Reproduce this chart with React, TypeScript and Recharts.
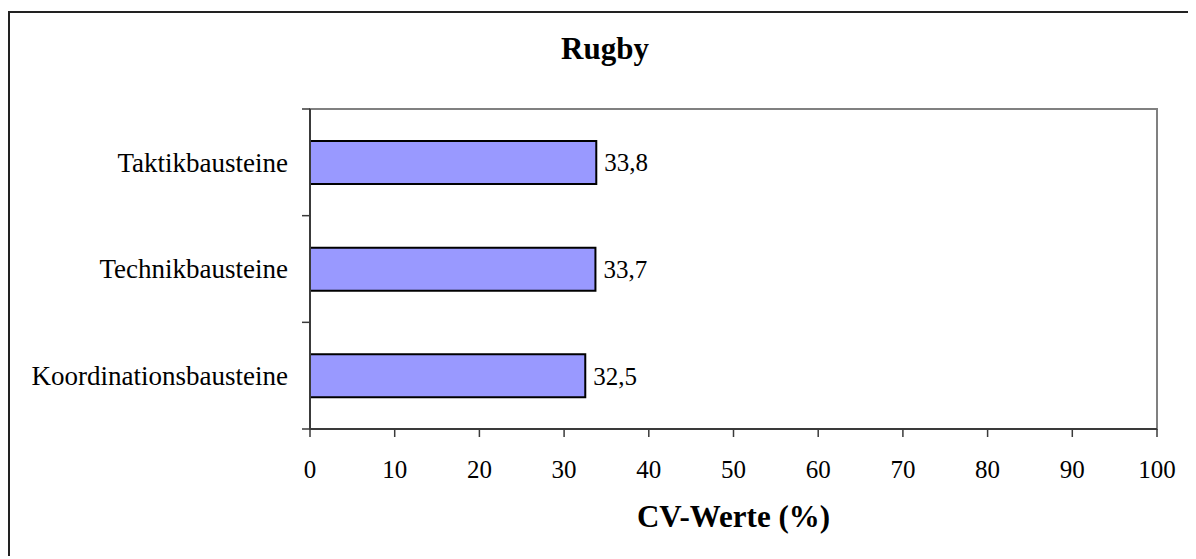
import { BarChart, Bar, XAxis, YAxis, ReferenceArea, LabelList } from 'recharts'

const categories = ['Taktikbausteine', 'Technikbausteine', 'Koordinationsbausteine']
const cvValues = [33.8, 33.7, 32.5]
const xTicks = [0, 10, 20, 30, 40, 50, 60, 70, 80, 90, 100]

const data = categories.map((name, i) => ({ name, cv: cvValues[i] }))

const FONT = '"Liberation Serif", "Times New Roman", serif'
const AXIS = '#3a3a3a'

const TICK_SIZE = 8
const TICK_MARGIN = 14

// category label at band centre, tick marks at band edges (like the original)
function CategoryTick(props: any) {
  const { x, y, payload, index } = props
  const half = payload.offset || 0
  const x1 = x + TICK_MARGIN
  const x2 = x1 + TICK_SIZE
  return (
    <g>
      <text x={x} y={y} dy="0.35em" textAnchor="end" fontFamily={FONT} fontSize={27} fill="#000">
        {payload.value}
      </text>
      <line x1={x1} x2={x2} y1={y - half} y2={y - half} stroke={AXIS} strokeWidth={1.5} />
      {index === categories.length - 1 && (
        <line x1={x1} x2={x2} y1={y + half} y2={y + half} stroke={AXIS} strokeWidth={1.5} />
      )}
    </g>
  )
}

export default function App() {
  return (
    <div style={{ position: 'relative', width: 1188, height: 548 }}>
      <div
        style={{
          position: 'absolute',
          left: 0,
          top: 3,
          width: 1186,
          height: 543,
          borderLeft: '2px solid #222',
          borderTop: '2px solid #222',
        }}
      />
      <div
        style={{
          position: 'absolute',
          left: 0,
          top: 25,
          width: 1194,
          textAlign: 'center',
          fontFamily: FONT,
          fontWeight: 'bold',
          fontSize: 31,
          lineHeight: '31px',
        }}
      >
        Rugby
      </div>
      <div style={{ position: 'absolute', left: 0, top: 0 }}>
        <BarChart
          width={1188}
          height={548}
          data={data}
          layout="vertical"
          margin={{ top: 101, right: 39, bottom: 17, left: 0 }}
        >
          <ReferenceArea x1={0} x2={100} stroke="#808080" strokeWidth={2} fill="none" ifOverflow="visible" />
          <XAxis
            type="number"
            domain={[0, 100]}
            ticks={xTicks}
            interval={0}
            height={110}
            tickSize={TICK_SIZE}
            tickMargin={23}
            axisLine={{ stroke: AXIS, strokeWidth: 2 }}
            tickLine={{ stroke: AXIS, strokeWidth: 1.5 }}
            tick={{ fontFamily: FONT, fontSize: 25, fill: '#000' }}
            label={{
              value: 'CV-Werte (%)',
              position: 'insideBottom',
              offset: 12,
              fontFamily: FONT,
              fontSize: 31,
              fontWeight: 'bold',
              fill: '#000',
            }}
          />
          <YAxis
            type="category"
            dataKey="name"
            width={302}
            tickSize={TICK_SIZE}
            tickMargin={TICK_MARGIN}
            tickLine={false}
            axisLine={{ stroke: AXIS, strokeWidth: 2 }}
            tick={<CategoryTick />}
            interval={0}
          />
          <Bar dataKey="cv" fill="#9999FF" stroke="#000" strokeWidth={2} barSize={43} isAnimationActive={false}>
            <LabelList
              dataKey="cv"
              position="right"
              offset={8}
              formatter={(v: any) => String(v).replace('.', ',')}
              style={{ fontFamily: FONT, fontSize: 25, fill: '#000' }}
            />
          </Bar>
        </BarChart>
      </div>
    </div>
  )
}
